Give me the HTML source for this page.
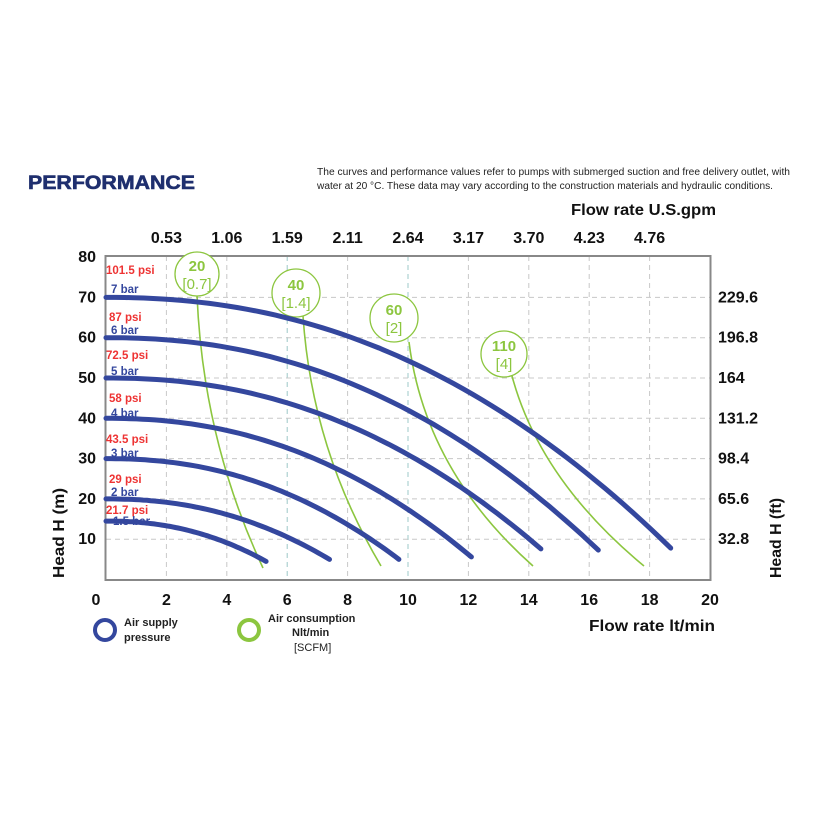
<!DOCTYPE html>
<html><head><meta charset="utf-8"><style>
html,body{margin:0;padding:0;background:#fff;width:833px;height:833px;overflow:hidden}
svg{display:block;font-family:"Liberation Sans",Arial,sans-serif}
</style></head><body>
<svg id="s" width="833" height="833" viewBox="0 0 833 833" xmlns="http://www.w3.org/2000/svg">
<text x="28" y="189" font-size="19" font-weight="bold" fill="#1f2f6e" textLength="167" lengthAdjust="spacingAndGlyphs" stroke="#1f2f6e" stroke-width="0.6">PERFORMANCE</text>
<text x="317" y="175" font-size="10" fill="#222" textLength="473" lengthAdjust="spacingAndGlyphs">The curves and performance values refer to pumps with submerged suction and free delivery outlet, with</text>
<text x="317" y="189" font-size="10" fill="#222" textLength="456" lengthAdjust="spacingAndGlyphs">water at 20 °C. These data may vary according to the construction materials and hydraulic conditions.</text>
<text x="571" y="215" font-size="16" font-weight="bold" fill="#111" textLength="145" lengthAdjust="spacingAndGlyphs">Flow rate U.S.gpm</text>
<g id="grid" stroke-dasharray="5,4" stroke-width="1"></g>
<rect x="105.5" y="256" width="605" height="324" fill="none" stroke="#888" stroke-width="2"/>
<g id="lab" font-size="16" font-weight="bold" fill="#111"></g>
<g id="curves" fill="none"></g>
<g font-size="16" font-weight="bold" fill="#111">
<text x="64" y="578" transform="rotate(-90 64 578)" textLength="90" lengthAdjust="spacingAndGlyphs">Head H (m)</text>
<text x="781" y="578" transform="rotate(-90 781 578)" textLength="80" lengthAdjust="spacingAndGlyphs">Head H (ft)</text>
<text x="589" y="631" textLength="126" lengthAdjust="spacingAndGlyphs">Flow rate  lt/min</text>
</g>
<circle cx="105" cy="630" r="10" fill="none" stroke="#34479e" stroke-width="4"/>
<text x="124" y="626" font-size="11" font-weight="bold" fill="#222">Air supply</text>
<text x="124" y="641" font-size="11" font-weight="bold" fill="#222">pressure</text>
<circle cx="249" cy="630" r="10" fill="none" stroke="#8cc63f" stroke-width="4"/>
<text x="268" y="622" font-size="11" font-weight="bold" fill="#222">Air consumption</text>
<text x="292" y="636" font-size="11" font-weight="bold" fill="#222">Nlt/min</text>
<text x="294" y="651" font-size="11" fill="#222">[SCFM]</text>
</svg>
<script>
var NS="http://www.w3.org/2000/svg";
function X(v){return 106+30.2*v}function Y(v){return 579.5-4.03*v}
function el(p,t,a,txt){var e=document.createElementNS(NS,t);for(var k in a)e.setAttribute(k,a[k]);if(txt!=null)e.textContent=txt;p.appendChild(e);return e}
var g=document.getElementById('grid'),L=document.getElementById('lab'),C=document.getElementById('curves');
for(var i=1;i<10;i++){var x=X(2*i);el(g,'line',{x1:x,y1:256,x2:x,y2:580,stroke:(i==3||i==5)?'#9cc8c8':'#c8c8c8'});}
for(var j=1;j<8;j++){var y=Y(10*j);el(g,'line',{x1:106,y1:y,x2:710,y2:y,stroke:'#c8c8c8'});}
for(var i=0;i<=10;i++)el(L,'text',{x:X(2*i)-(i==0?10:0),y:605,'text-anchor':'middle'},''+2*i);
for(var j=1;j<=8;j++)el(L,'text',{x:96,y:Y(10*j)+5,'text-anchor':'end'},''+10*j);
var gp=['0.53','1.06','1.59','2.11','2.64','3.17','3.70','4.23','4.76'];
gp.forEach(function(t,i){el(L,'text',{x:X(2*(i+1)),y:243,'text-anchor':'middle'},t)});
var ft=['32.8','65.6','98.4','131.2','164','196.8','229.6'];
ft.forEach(function(t,i){el(L,'text',{x:718,y:Y(10*(i+1))+5},t)});
var gl=[[197,295,203,440,263,568],[303,316,312,450,381,566],[409,342,425,470,533,566],[512,376,540,480,644,566]];
gl.forEach(function(a){el(C,'path',{d:'M'+a[0]+' '+a[1]+' Q'+a[2]+' '+a[3]+' '+a[4]+' '+a[5],stroke:'#8cc63f','stroke-width':1.6})});
var cc=[[197,274,22,'20','[0.7]'],[296,293,24,'40','[1.4]'],[394,318,24,'60','[2]'],[504,354,23,'110','[4]']];
cc.forEach(function(c){el(C,'circle',{cx:c[0],cy:c[1],r:c[2],fill:'#fff',stroke:'#8cc63f','stroke-width':1.3});
el(C,'text',{x:c[0],y:c[1]-3,'text-anchor':'middle','font-size':15,'font-weight':'bold',fill:'#8cc63f'},c[3]);
el(C,'text',{x:c[0],y:c[1]+15,'text-anchor':'middle','font-size':15,fill:'#8cc63f'},c[4]);});
var bc=[[70,18.7,7.8],[60,16.3,7.3],[50,14.4,7.6],[40,12.1,5.6],[30,9.7,5],[20,7.4,5],[14.5,5.3,4.5]];
bc.forEach(function(b){var d='';for(var k=0;k<=60;k++){var x=b[1]*k/60,h=b[0]-(b[0]-b[2])*Math.pow(x/b[1],2.2);d+=(k?'L':'M')+X(x).toFixed(1)+' '+Y(h).toFixed(1)+' ';}
el(C,'path',{d:d,stroke:'#34479e','stroke-width':5,'stroke-linecap':'round'});});
var lb=[[270,'101.5 psi','7 bar',289],[317,'87 psi','6 bar',330],[355,'72.5 psi','5 bar',371],[398,'58 psi','4 bar',413],[439,'43.5 psi','3 bar',453],[479,'29 psi','2 bar',492],[510,'21.7 psi','1.5 bar',521]];
lb.forEach(function(l){el(C,'text',{x:l[1].length>7?106:109,y:l[0]+4,'font-size':11.5,'font-weight':'bold',fill:'#ee3333'},l[1]);
el(C,'text',{x:l[2].length>5?113:111,y:l[3]+4,'font-size':11.5,'font-weight':'bold',fill:'#34479e'},l[2]);});
</script>
</body></html>
